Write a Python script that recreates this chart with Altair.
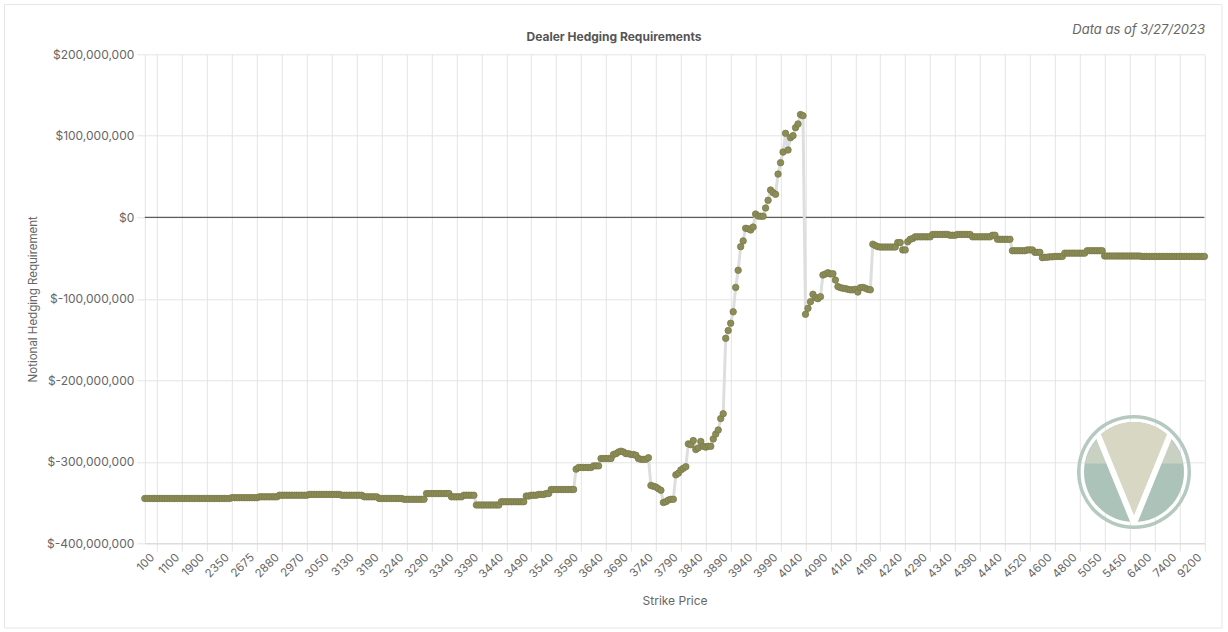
import json
import altair as alt
import pandas as pd

# ---------------- data (values in $ millions) ----------------
strike_labels = ["100", "1100", "1900", "2350", "2675", "2880", "2970", "3050", "3130", "3190",
                 "3240", "3290", "3340", "3390", "3440", "3490", "3540", "3590", "3640", "3690",
                 "3740", "3790", "3840", "3890", "3940", "3990", "4040", "4090", "4140", "4190",
                 "4240", "4290", "4340", "4390", "4440", "4520", "4600", "4800", "5050", "5450",
                 "6400", "7400", "9200"]

vals_low = [
    -345, -345, -345, -345, -345, -345, -345, -345, -345, -345,
    -345, -345, -345, -345, -345, -345, -345, -345, -345, -345,
    -345, -345, -345, -345, -345, -345, -345, -345, -345, -345,
    -345, -345, -345, -345, -345, -344, -344, -344, -344, -344,
    -344, -344, -344, -344, -344, -344, -343, -343, -343, -343,
    -343, -343, -343, -343, -341, -341, -341, -341, -341, -341,
    -341, -341, -341, -341, -341, -341, -340, -340, -340, -340,
    -340, -340, -340, -340, -340, -340, -340, -340, -340, -341,
    -341, -341, -341, -341, -341, -341, -341, -341, -343, -343,
    -343, -343, -343, -343, -345, -345, -345, -345, -345, -345,
    -345, -345, -345, -345, -346, -346, -346, -346, -346, -346,
    -346, -346, -346, -339, -339, -339, -339, -339, -339, -339,
    -339, -339, -339, -343, -343, -343, -343, -343, -341, -341,
    -341, -341, -341, -353, -353, -353, -353, -353, -353, -353,
    -353, -353, -353, -349, -349, -349, -349, -349, -349, -349,
    -349, -349, -349, -342, -342, -341, -341, -341, -340, -340,
    -340, -339, -339, -334, -334, -334, -334, -334, -334, -334,
    -334, -334, -334, -309, -307, -307, -307, -307, -307, -307,
]
vals_mid = [
    -305, -305, -305, -296, -296, -296, -296, -296, -291, -290,
    -288, -287, -288, -290, -290, -291, -291, -292, -296, -297,
    -297, -297, -295, -329, -330, -331, -333, -335, -350, -349,
    -347, -346, -346, -316, -314, -310, -308, -306, -278, -279,
    -274, -285, -283, -275, -281, -282, -281, -281, -272, -266,
    -261, -247, -241, -148.5, -139, -130, -116, -86, -65, -36,
    -29, -13.5, -14, -15.6, -12, 4, 1.6, 1.3, 1.3, 11.4,
    20.8, 33.5, 30.3, 28.2, 53, 67, 80, 103, 82.6, 97.7,
    100.2, 110, 114.5, 126, 124.7, -119, -111.7, -103.5, -94.5, -98.5,
    -99.8, -97.4, -70.8, -69.6, -68, -69.6, -69.2, -77, -85, -86.3,
    -87, -87.5, -88.4, -89, -89, -88.4, -91.7, -86.3, -86, -87,
    -88.4, -89, -33, -34.7, -36, -36.5, -36.5, -36.5, -36.5, -36.5,
]
vals_high = [
    -36.5, -36.5, -31, -31, -40, -40, -30, -27, -26, -24,
    -24, -24, -24, -24, -24, -24, -21, -21, -21, -21,
    -21, -21, -21, -22, -22, -22, -21, -21, -21, -21,
    -21, -21, -24, -24, -24, -24, -24, -24, -24, -24,
    -22, -22, -27, -27, -27, -27, -27, -27, -41, -41,
    -41, -41, -41, -41, -40, -40, -40, -43, -43, -43,
    -49.5, -49, -49, -48.5, -48.5, -48, -48, -48, -48, -44,
    -44, -44, -44, -44, -44, -44, -44, -44, -41, -41,
    -41, -41, -41, -41, -41, -47.5, -47.5, -47.5, -47.5, -47.5,
    -47.5, -47.5, -47.5, -47.5, -47.5, -47.5, -47.5, -47.5, -47.5, -47.5,
    -48, -48, -48, -48, -48, -48, -48, -48, -48, -48,
    -48, -48, -48, -48, -48, -48, -48, -48, -48, -48,
    -48, -48, -48, -48, -48, -48,
]
values_m = vals_low + vals_mid + vals_high

y_ticks = [-400e6, -300e6, -200e6, -100e6, 0, 100e6, 200e6]

title_text = "Dealer Hedging Requirements"
date_text = "Data as of 3/27/2023"

# ---------------- layout ----------------
PL, PT = 144.8, 54.3
W, H = 1059.6, 489.0
PR = 1228 - PL - W
PB = 632 - PT - H

df = pd.DataFrame({"idx": list(range(len(values_m))),
                   "value": [v * 1e6 for v in values_m]})
n = len(values_m)
tick_idx = [5 + 10 * k for k in range(len(strike_labels))]
label_expr = json.dumps(strike_labels) + "[round((datum.value - 5) / 10)]"

FONT = "Inter"
GRID = "#e4e4e4"

x_enc = alt.X("idx:Q",
              scale=alt.Scale(domain=[0, n - 1], nice=False, zero=False),
              axis=alt.Axis(values=tick_idx, labelExpr=label_expr, labelAngle=-45,
                            labelOverlap=False, labelFlush=False, labelOffset=-9,
                            labelFont=FONT, labelFontSize=11.5, labelColor="#666",
                            labelAlign="right", labelBaseline="top", labelPadding=0,
                            grid=True, gridColor=GRID, tickColor=GRID, tickSize=8,
                            domainColor="#d6d6d6", title="Strike Price",
                            titleFont=FONT, titleFontSize=12, titleFontWeight="normal",
                            titleColor="#666", titleY=57, titleBaseline="middle"))
y_enc = alt.Y("value:Q",
              scale=alt.Scale(domain=[-400e6, 200e6], nice=False, zero=False),
              axis=alt.Axis(values=y_ticks,
                            labelExpr="(datum.value < 0 ? '$-' : '$') + format(abs(datum.value), ',')",
                            labelFont=FONT, labelFontSize=12, labelColor="#666",
                            labelPadding=3, grid=True, gridColor=GRID, tickColor=GRID,
                            tickSize=8, domainColor=GRID, title="Notional Hedging Requirement",
                            titleFont=FONT, titleFontSize=11.5, titleFontWeight="normal",
                            titleColor="#666", titleX=-111.8, titleY=H / 2, titleAngle=-90,
                            titleAlign="center", titleBaseline="middle"))

base = alt.Chart(df)
line = base.mark_line(color="#dedede", strokeWidth=3).encode(x=x_enc, y=y_enc)
pts = base.mark_circle(size=42, color="#8c8c57", opacity=1, stroke="#7b7b4a",
                       strokeWidth=0.8).encode(x=x_enc, y=y_enc)
zero = alt.Chart(pd.DataFrame({"z": [0]})).mark_rule(color="#3a3a3a", strokeWidth=1).encode(
    y=alt.Y("z:Q", scale=alt.Scale(domain=[-400e6, 200e6], nice=False, zero=False)))

one = pd.DataFrame({"t": [title_text], "d": [date_text]})
title_mark = alt.Chart(one).mark_text(font=FONT, fontSize=12, fontWeight="bold",
                                      color="#555", align="center", baseline="middle").encode(
    x=alt.value(614 - PL), y=alt.value(37 - PT), text="t:N")
date_mark = alt.Chart(one).mark_text(font=FONT, fontSize=13, fontStyle="italic",
                                     color="#666", align="right", baseline="middle").encode(
    x=alt.value(1205 - PL), y=alt.value(30 - PT), text="d:N")
border = alt.Chart(one).mark_rect(fill="white", fillOpacity=0, stroke="#e6e6e6",
                                  strokeWidth=1).encode(
    x=alt.value(4.5 - PL), x2=alt.value(1222 - PL), y=alt.value(4.5 - PT),
    y2=alt.value(628 - PT))

# ---------------- logo watermark ----------------
CX, CY = 1134 - PL, 472 - PT
LOGO_SIZE = (2 * 57) ** 2
ring = alt.Chart(one).mark_arc(theta=0, theta2=6.2832, radius=57, radius2=53.5,
                               color="#b5c9c1").encode(x=alt.value(CX), y=alt.value(CY))
disc = alt.Chart(one).mark_arc(theta=0, theta2=6.2832, radius=50,
                               color="#a8c0b6", opacity=0.95).encode(x=alt.value(CX), y=alt.value(CY))
cap = alt.Chart(one).mark_point(
    shape="M -0.86 -0.15 A 0.877 0.877 0 0 1 0.86 -0.15 Z",
    filled=True, color="#c9d1c3", opacity=1, strokeWidth=0).encode(
    x=alt.value(CX), y=alt.value(CY), size=alt.value(LOGO_SIZE))
inner = alt.Chart(one).mark_point(
    shape="M -0.62 -0.62 L 0 0.9 L 0.62 -0.62 A 0.877 0.877 0 0 0 -0.62 -0.62 Z",
    filled=True, color="#d8d7c4", opacity=1, strokeWidth=0).encode(
    x=alt.value(CX), y=alt.value(CY), size=alt.value(LOGO_SIZE))
vee = alt.Chart(one).mark_point(
    shape="M -0.642 -0.673 L 0 0.9 L 0.642 -0.673",
    filled=False, color="white", opacity=1, strokeWidth=6, strokeJoin="miter").encode(
    x=alt.value(CX), y=alt.value(CY), size=alt.value(LOGO_SIZE))

chart = alt.layer(border, disc, cap, inner, vee, ring, zero, line, pts, title_mark, date_mark).properties(
    width=W, height=H,
    autosize=alt.AutoSizeParams(type="none"),
    padding={"left": PL, "top": PT, "right": PR, "bottom": PB},
    background="white",
).configure_view(stroke=None).configure_axis(labelOverlap=False)

chart.save("out.html", embed_options={"renderer": "svg", "actions": False})
